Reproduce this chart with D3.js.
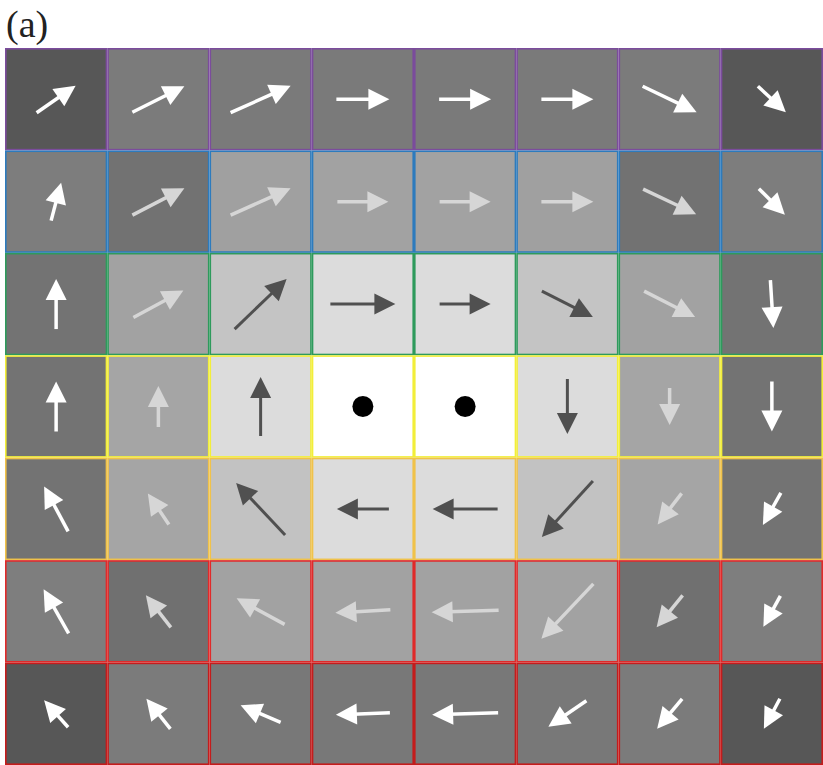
<!DOCTYPE html>
<html>
<head>
<meta charset="utf-8">
<script src="https://cdn.jsdelivr.net/npm/d3@7"></script>
<style>
  html, body { margin: 0; padding: 0; background: #fff; }
</style>
</head>
<body>
<div id="chart"></div>
<script>
// grid layout: 8 columns x 7 rows
const columns = [0, 1, 2, 3, 4, 5, 6, 7]
const rows = [0, 1, 2, 3, 4, 5, 6]

// border colour for each row of cells
const rowColors = ["#7b4c9c", "#2d7bbd", "#2e9a5c", "#f2ee3a", "#f0c24a", "#e02a2a", "#c41c1c"]

// cell shading (grey level 0-255)
const shade = [
  [87, 123, 122, 122, 122, 122, 123, 87],
  [125, 114, 160, 162, 162, 160, 114, 125],
  [115, 162, 196, 220, 220, 196, 162, 115],
  [115, 165, 220, 255, 255, 220, 165, 115],
  [115, 165, 194, 220, 220, 194, 165, 115],
  [126, 112, 162, 162, 162, 162, 112, 126],
  [87, 123, 120, 120, 120, 120, 123, 87]
]

// vector components (u to the right, v upward)
const u = [
  [3.9, 5.2, 6.0, 5.3, 5.2, 5.2, 5.4, 2.8],
  [1.0, 5.2, 6.0, 5.1, 5.1, 5.2, 5.3, 2.6],
  [0.0, 5.0, 5.2, 6.5, 5.1, 5.1, 5.1, 0.3],
  [0.0, 0.0, 0.0, 0.0, 0.0, 0.0, 0.0, 0.0],
  [-2.4, -2.1, -4.9, -5.2, -6.5, -5.1, -2.4, -1.8],
  [-2.5, -2.5, -4.8, -5.5, -6.7, -5.2, -2.6, -1.7],
  [-2.4, -2.4, -4.0, -5.4, -6.6, -3.8, -2.5, -1.6]
]
const v = [
  [2.7, 2.6, 2.7, 0.0, 0.0, 0.0, -2.6, -2.6],
  [3.8, 2.7, 2.7, 0.0, 0.0, 0.0, -2.5, -2.6],
  [5.0, 2.7, 5.0, 0.0, 0.0, -2.6, -2.6, -4.8],
  [5.0, 4.1, 5.9, 0.0, 0.0, -5.5, -3.7, -5.0],
  [4.5, 3.1, 5.2, 0.0, 0.0, -5.6, -3.1, -3.2],
  [4.4, 3.2, 2.6, -0.3, -0.2, -5.5, -3.2, -3.1],
  [2.7, 3.0, 1.7, -0.2, -0.2, -2.6, -3.0, -3.0]
]

// arrow tone: w = white, l = light grey, d = dark grey
const tone = [
  ["w", "w", "w", "w", "w", "w", "w", "w"],
  ["w", "l", "l", "l", "l", "l", "l", "w"],
  ["w", "l", "d", "d", "d", "d", "l", "w"],
  ["w", "l", "d", "d", "d", "d", "l", "w"],
  ["w", "l", "d", "d", "d", "d", "l", "w"],
  ["w", "l", "l", "l", "l", "l", "l", "w"],
  ["w", "w", "w", "w", "w", "w", "w", "w"]
]
const toneColor = { w: "#ffffff", l: "#d6d6d6", d: "#505050" }

const width = 823
const height = 765

const svg = d3.select("#chart")
  .append("svg")
  .attr("width", width)
  .attr("height", height)

const x = d3.scaleBand().domain(columns).range([5, 823]).padding(0)
const y = d3.scaleBand().domain(rows).range([48, 765]).padding(0)
const vec = d3.scaleLinear().domain([0, 1]).range([0, 10])

const cells = []
rows.forEach(r => columns.forEach(c => {
  cells.push({ r, c, g: shade[r][c], u: u[r][c], v: v[r][c], tone: tone[r][c] })
}))

// cell backgrounds
svg.selectAll(".cell")
  .data(cells)
  .enter()
  .append("rect")
  .attr("class", "cell")
  .attr("x", d => x(d.c) + 0.8)
  .attr("y", d => y(d.r) + 0.8)
  .attr("width", x.bandwidth() - 1.6)
  .attr("height", y.bandwidth() - 1.6)
  .attr("fill", d => d3.rgb(d.g, d.g, d.g))
  .attr("stroke", d => rowColors[d.r])
  .attr("stroke-width", 1.6)

const headLen = 21
const headHalf = 10.5

const arrows = cells.filter(d => d.u !== 0 || d.v !== 0)
const points = cells.filter(d => d.u === 0 && d.v === 0)

const g = svg.selectAll(".arrow")
  .data(arrows)
  .enter()
  .append("g")
  .attr("class", "arrow")

arrows.forEach(d => {
  const cx = x(d.c) + x.bandwidth() / 2
  const cy = y(d.r) + y.bandwidth() / 2
  const dx = vec(d.u)
  const dy = -vec(d.v)
  const len = Math.hypot(dx, dy)
  const ux = dx / len, uy = dy / len
  d.x0 = cx - dx / 2
  d.y0 = cy - dy / 2
  d.x1 = cx + dx / 2
  d.y1 = cy + dy / 2
  d.bx = d.x1 - ux * headLen
  d.by = d.y1 - uy * headLen
  d.head = [
    [d.x1, d.y1],
    [d.bx - uy * headHalf, d.by + ux * headHalf],
    [d.bx + uy * headHalf, d.by - ux * headHalf]
  ]
})

g.append("line")
  .attr("x1", d => d.x0)
  .attr("y1", d => d.y0)
  .attr("x2", d => d.bx + (d.x1 - d.bx) * 0.2)
  .attr("y2", d => d.by + (d.y1 - d.by) * 0.2)
  .attr("stroke", d => toneColor[d.tone])
  .attr("stroke-width", d => d.tone === "d" ? 3 : 3.5)

g.append("path")
  .attr("d", d => "M" + d.head.map(p => p.join(",")).join("L") + "Z")
  .attr("fill", d => toneColor[d.tone])

// stationary points
svg.selectAll(".point")
  .data(points)
  .enter()
  .append("circle")
  .attr("class", "point")
  .attr("cx", d => x(d.c) + x.bandwidth() / 2)
  .attr("cy", d => y(d.r) + y.bandwidth() / 2)
  .attr("r", 10.5)
  .attr("fill", "#000")

svg.append("text")
  .attr("x", 6)
  .attr("y", 37)
  .attr("font-family", "Liberation Serif, Times New Roman, serif")
  .attr("font-size", "38px")
  .attr("fill", "#222")
  .text("(a)")
</script>
</body>
</html>
